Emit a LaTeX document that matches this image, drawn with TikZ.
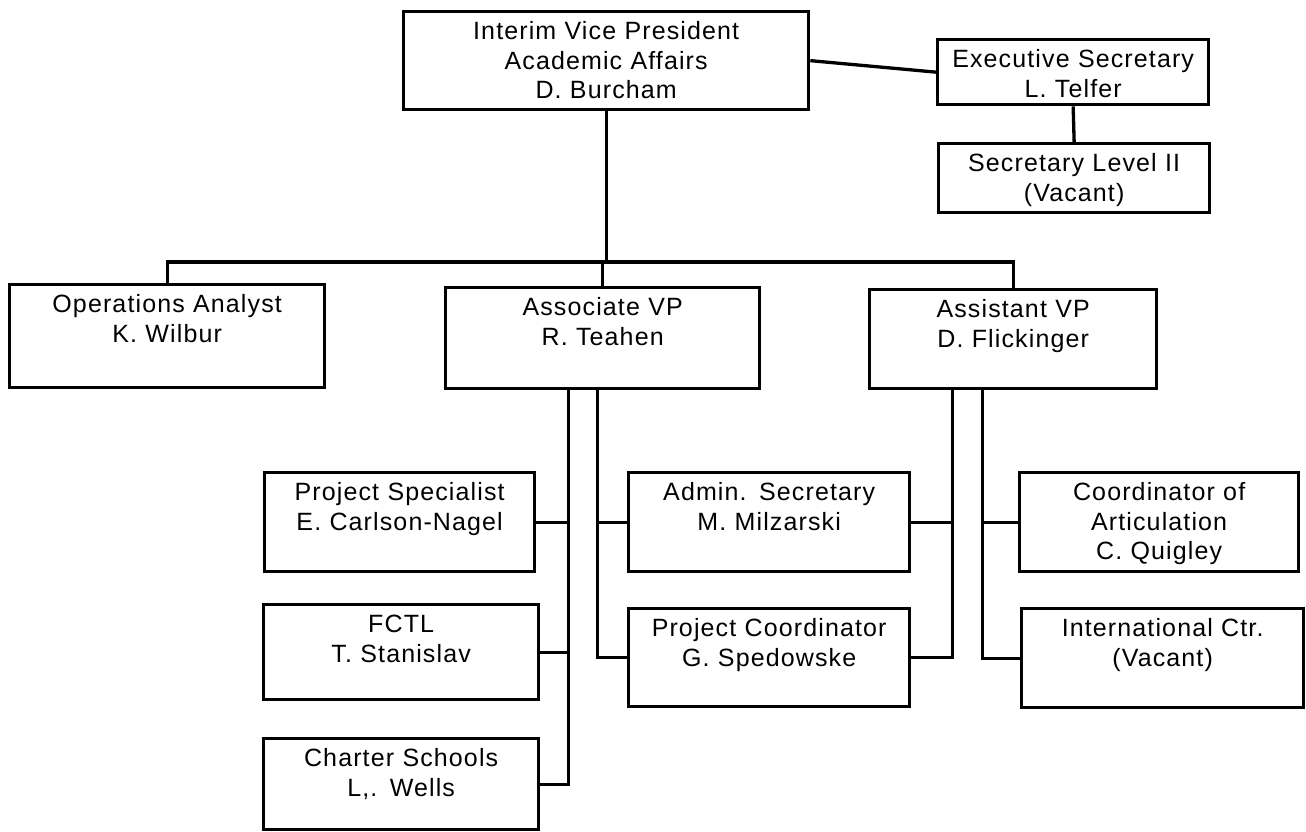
\documentclass[tikz,border=0pt]{standalone}
\usepackage{fontspec}
\setmainfont[LetterSpace=4.5]{Liberation Sans}

\begin{document}
\begin{tikzpicture}[x=1pt, y=-1pt,
  unit/.style 2 args={draw, line width=3.3pt, anchor=north west, inner sep=0pt,
    text width=#1pt, text height=28pt, text depth=#2pt, align=center,
    font=\fontsize{25}{29.5}\selectfont},
  link/.style={line width=3.3pt}]

\def\bus{262}

\path [use as bounding box] (0,0) rectangle (1306,832);

% TOP
\node [unit={405}{70}] (vp) at (402,10) {Interim Vice President\\Academic Affairs\\D. Burcham};
\node [unit={271}{37}] (exec) at (936,38) {Executive Secretary\\L. Telfer};
\node [unit={271}{41}] (sec) at (937,142) {Secretary Level II\\(Vacant)};

% SECOND ROW
\node [unit={315}{75}] (ops) at (8,283) {Operations Analyst\\K. Wilbur};
\node [unit={314}{73}] (avp) at (444,286) {Associate VP\\R. Teahen};
\node [unit={287}{71}] (asvp) at (868,288) {Assistant VP\\D. Flickinger};

% THIRD ROW
\node [unit={270}{71}] (spec) at (263,471) {Project Specialist\\E. Carlson-Nagel};
\node [unit={275}{67}] (fctl) at (262,603) {FCTL\\T. Stanislav};
\node [unit={275}{63}] (charter) at (262,737) {Charter Schools\\L,. Wells};
\node [unit={281}{71}] (admin) at (627,471) {Admin. Secretary\\M. Milzarski};
\node [unit={281}{70}] (pcoord) at (627,607) {Project Coordinator\\G. Spedowske};
\node [unit={279}{71}] (artic) at (1018,471) {Coordinator of\\Articulation\\C. Quigley};
\node [unit={282}{71}] (intl) at (1020,607) {International Ctr.\\(Vacant)};

% LINKS
\coordinate (top) at (0,\bus);
\draw [link] (vp.east) -- (exec.west);
\draw [link] (exec.south) -- (sec.north);
\draw [link] (vp.south) -- (vp.south |- top);
\draw [link] (ops.north) |- (top -| asvp.north) -- (asvp.north);
\draw [link] (avp.north) -- (avp.north |- top);

\coordinate (avpL) at ([xshift=-34pt]avp.south);
\coordinate (avpR) at ([xshift=-5pt]avp.south);
\coordinate (asvpL) at ([xshift=-61pt]asvp.south);
\coordinate (asvpR) at ([xshift=-31pt]asvp.south);

\draw [link] (avpL) |- (charter.east);
\draw [link] (spec.east) -- (spec.east -| avpL);
\draw [link] (fctl.east) -- (fctl.east -| avpL);
\draw [link] (avpR) |- (pcoord.west);
\draw [link] (admin.west) -- (admin.west -| avpR);

\draw [link] (asvpL) |- (pcoord.east);
\draw [link] (admin.east) -- (admin.east -| asvpL);
\draw [link] (asvpR) |- (intl.west);
\draw [link] (artic.west) -- (artic.west -| asvpR);

\end{tikzpicture}
\end{document}
